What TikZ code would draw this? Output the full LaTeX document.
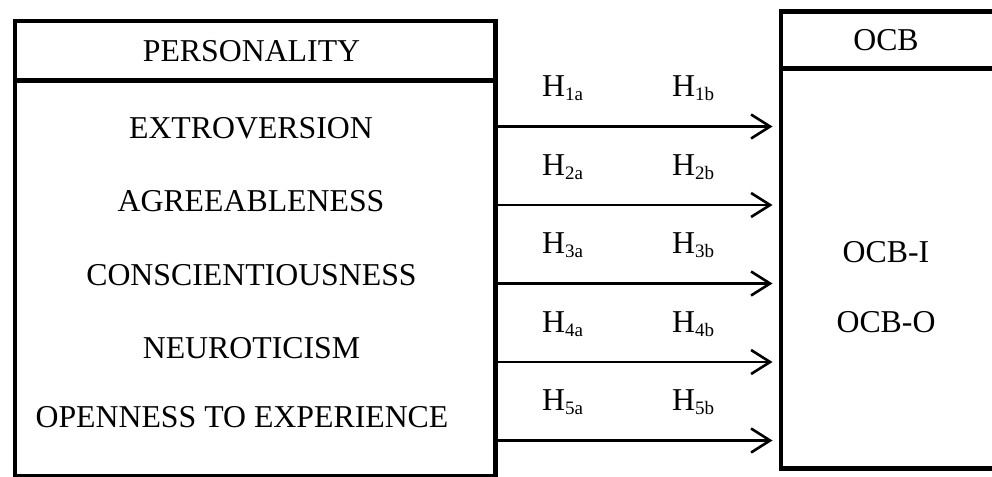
\documentclass[tikz,border=0pt]{standalone}
\usepackage{fontspec}
\setmainfont{Liberation Serif}
\usetikzlibrary{arrows.meta}
\newcommand{\hlab}[1]{H\raisebox{-4pt}{\fontsize{19}{19}\selectfont #1}}
\tikzset{
  boxline/.style={line width=4.5pt, line join=miter},
  txt/.style={font=\fontsize{31.8}{38}\selectfont, inner sep=0pt, anchor=base},
  arr/.style={line width=2.6pt, -{Straight Barb[length=19pt,width=24pt,line width=2.6pt]}, shorten >=6pt},
}
\begin{document}
\begin{tikzpicture}[x=1pt,y=-1pt]
\clip (0,0) rectangle (992,476);
\fill[white] (0,0) rectangle (992,476);
% left box
\node[boxline, draw, rectangle, minimum width=480.5pt, minimum height=455pt, inner sep=0pt, anchor=north west] (lbox) at (12.5,19) {};
\draw[boxline] (12.5,80.5) -- (493,80.5);
% right box
\node[boxline, draw, rectangle, minimum width=240pt, minimum height=456.5pt, inner sep=0pt, anchor=north west] (rbox) at (778.5,9.5) {};
\draw[boxline] (778.5,68.5) -- (1020,68.5);
% texts
\node[txt] (pers) at (251.5,62) {PERSONALITY};
\node[txt] (t1) at (251,138.3) {EXTROVERSION};
\node[txt] (t2) at (251,211.7) {AGREEABLENESS};
\node[txt] (t3) at (251.5,285) {CONSCIENTIOUSNESS};
\node[txt] (t4) at (251.5,358) {NEUROTICISM};
\node[txt] (t5) at (242,427) {OPENNESS TO EXPERIENCE};
\node[txt] (ocb) at (886,51) {OCB};
\node[txt] (ocbi) at (886,262) {OCB-I};
\node[txt] (ocbo) at (886,332) {OCB-O};
% arrows
\foreach \i/\y in {1/126.5,2/205,3/283.5,4/362,5/440.5}{
  \coordinate (s\i) at (493,\y);
  \draw[arr] (s\i) -- (rbox.west |- s\i);
  \node[txt, anchor=base west] (ha\i) at (542,\y-30) {\hlab{\i a}};
  \node[txt, anchor=base west] (hb\i) at (672,\y-30) {\hlab{\i b}};
}
\end{tikzpicture}
\end{document}
